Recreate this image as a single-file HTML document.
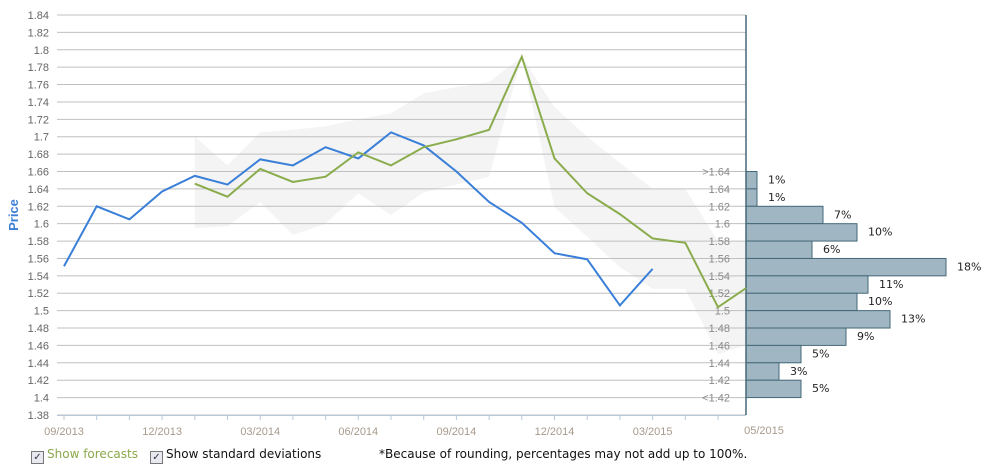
<!DOCTYPE html>
<html><head><meta charset="utf-8"><style>
body{margin:0;background:#fff;width:988px;height:467px;overflow:hidden;font-family:"Liberation Sans",Arial,sans-serif}
svg{position:absolute;left:0;top:0}
.leg{position:absolute;top:447px;font-size:12px;font-family:"DejaVu Sans","Liberation Sans",sans-serif}
.cb{display:inline-block;width:11px;height:11px;border:1px solid #777;background:#e8e8f0;vertical-align:-2px;margin-right:3px;font-size:10px;line-height:11px;text-align:center;color:#334}
</style></head><body>
<svg id="s" width="988" height="467" xmlns="http://www.w3.org/2000/svg"></svg>
<div class="leg" style="left:31px;color:#8aa84a"><span class="cb">✓</span>Show forecasts</div>
<div class="leg" style="left:150px;color:#111"><span class="cb">✓</span>Show standard deviations</div>
<div class="leg" style="left:379px;color:#111">*Because of rounding, percentages may not add up to 100%.</div>
<script>
var s='';
function Y(v){return 15+(1.84-v)/0.02*17.39;}
function X(m){return 64+32.7*m;}
var up=[[4,1.70],[5,1.667],[6,1.705],[7,1.708],[8,1.712],[9,1.72],[10,1.727],[11,1.75],[12,1.757],[13,1.763],[14,1.792],[15,1.734],[16,1.70],[17,1.67],[18,1.64],[19,1.64],[20,1.58],[20.86,1.58]];
var lo=[[4,1.595],[5,1.597],[6,1.625],[7,1.587],[8,1.60],[9,1.635],[10,1.61],[11,1.636],[12,1.645],[13,1.654],[14,1.792],[15,1.619],[16,1.585],[17,1.55],[18,1.525],[19,1.525],[20,1.45],[20.86,1.46]];
var pts=up.map(p=>X(p[0])+','+Y(p[1])).concat(lo.slice().reverse().map(p=>X(p[0])+','+Y(p[1])));
s+='<polygon points="'+pts.join(' ')+'" fill="#f4f4f4"/>';
for(var i=0;i<=23;i++){var v=1.84-i*0.02,y=Y(v);
 s+='<line x1="57" x2="746" y1="'+y+'" y2="'+y+'" stroke="#c0c0c0" stroke-width="1"/>';
 s+='<text x="49" y="'+(y+4)+'" text-anchor="end" font-size="11" fill="#666">'+(+v.toFixed(2))+'</text>';}
s+='<line x1="57" x2="746" y1="415.5" y2="415.5" stroke="#b8c8d8"/>';
for(var m=0;m<=20;m++){var x=X(m);s+='<line x1="'+x+'" x2="'+x+'" y1="415" y2="420" stroke="#b8c8d8"/>';}
var lab=['09/2013','12/2013','03/2014','06/2014','09/2014','12/2014','03/2015'];
lab.forEach((t,i)=>{s+='<text x="'+X(i*3)+'" y="435" text-anchor="middle" font-size="11" fill="#a89a8c">'+t+'</text>';});
s+='<text x="764" y="434" text-anchor="middle" font-size="11" fill="#a89a8c">05/2015</text>';
s+='<text x="18" y="215" transform="rotate(-90 18 215)" text-anchor="middle" font-size="13" font-weight="bold" fill="#3d7fd6">Price</text>';
var w=[11,11,77,111,66,200,122,111,144,100,55,33,55],pc=[1,1,7,10,6,18,11,10,13,9,5,3,5];
var hl=['>1.64','1.64','1.62','1.6','1.58','1.56','1.54','1.52','1.5','1.48','1.46','1.44','1.42','<1.42'];
for(var i=0;i<13;i++){var y1=Y(1.66-i*0.02),y2=Y(1.64-i*0.02);
 s+='<rect x="746" y="'+y1+'" width="'+w[i]+'" height="'+(y2-y1)+'" fill="#a0b6c3" stroke="#456878" stroke-width="1"/>';
 s+='<text x="'+(746+w[i]+11)+'" y="'+(y1+12)+'" font-size="11" fill="#222" font-family="DejaVu Sans,sans-serif">'+pc[i]+'%</text>';}
for(var i=0;i<14;i++){var y=Y(1.66-i*0.02);s+='<text x="730" y="'+(y+4)+'" text-anchor="end" font-size="11" fill="#888">'+hl[i]+'</text>';}
s+='<line x1="746" x2="746" y1="15" y2="415" stroke="#456878" stroke-width="1.5"/>';
var b=[1.551,1.62,1.605,1.637,1.655,1.645,1.674,1.667,1.688,1.675,1.705,1.69,1.66,1.625,1.601,1.566,1.559,1.506,1.548];
s+='<polyline fill="none" stroke="#3a7fd8" stroke-width="2" points="'+b.map((v,i)=>X(i)+','+Y(v)).join(' ')+'"/>';
var g=[[4,1.646],[5,1.631],[6,1.663],[7,1.648],[8,1.654],[9,1.682],[10,1.667],[11,1.688],[12,1.697],[13,1.708],[14,1.792],[15,1.675],[16,1.635],[17,1.611],[18,1.583],[19,1.578],[20,1.504],[20.86,1.526]];
s+='<polyline fill="none" stroke="#8aac4c" stroke-width="2" points="'+g.map(p=>X(p[0])+','+Y(p[1])).join(' ')+'"/>';
document.getElementById('s').innerHTML=s;
</script>
</body></html>
